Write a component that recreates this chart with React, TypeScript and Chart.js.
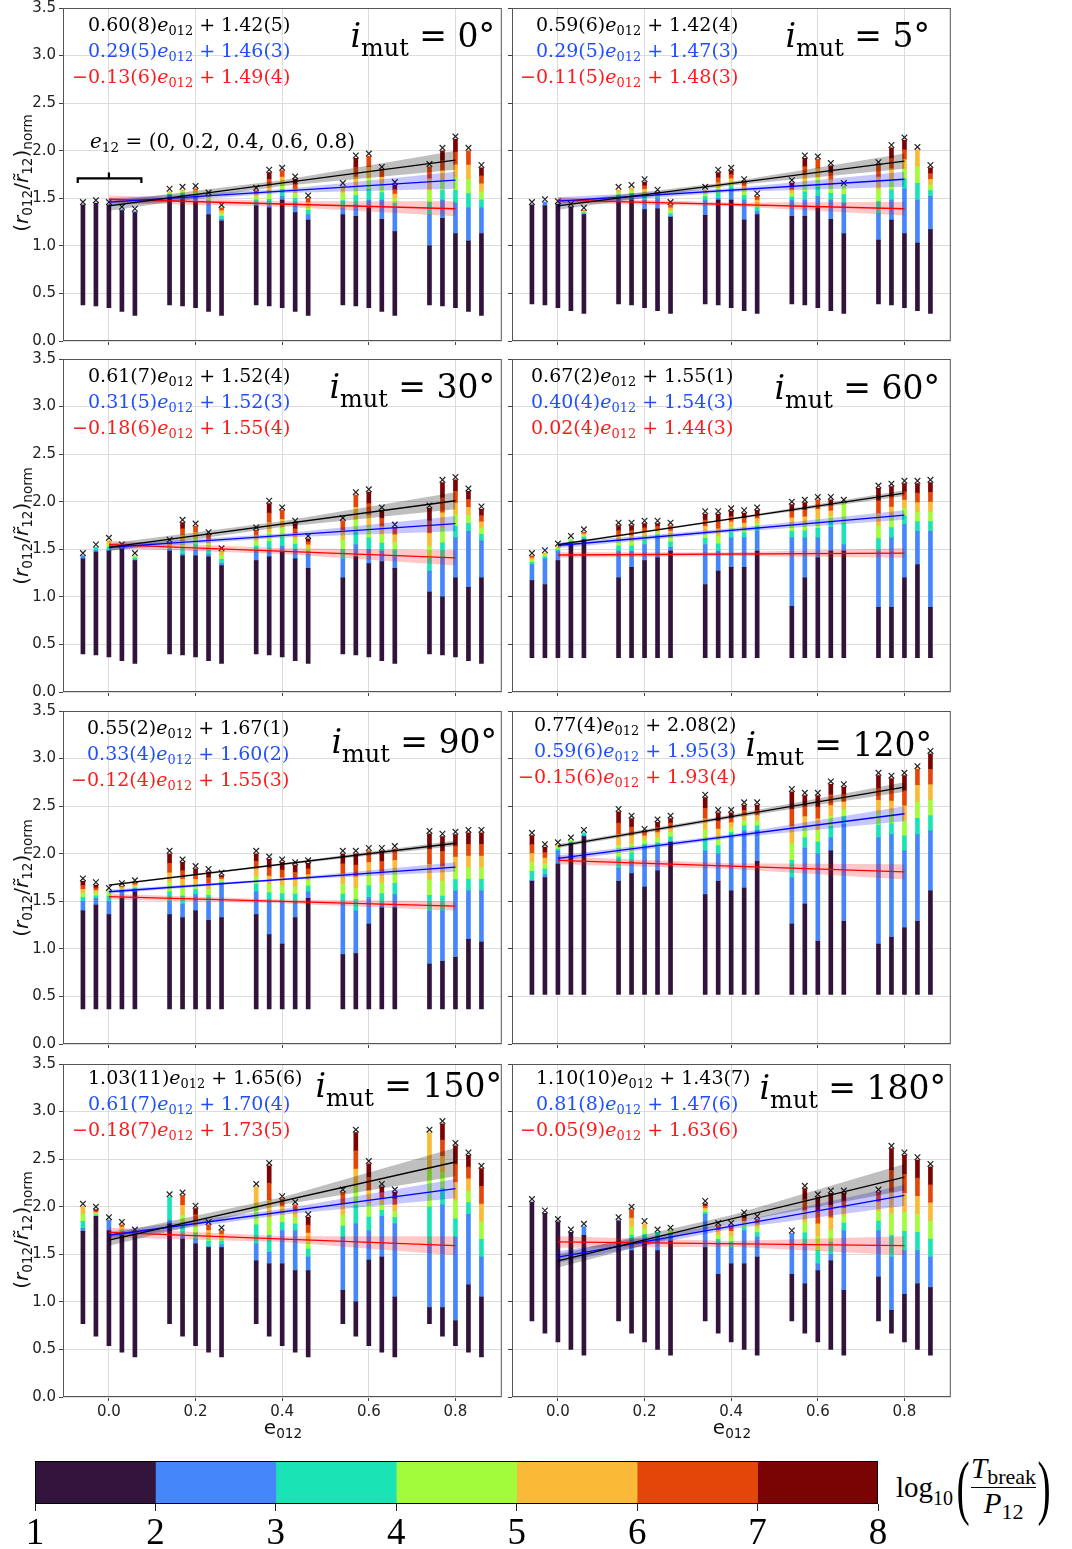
import React, { useEffect, useRef } from "react";
import { Chart, registerables } from "chart.js";
Chart.register(...registerables);

// ---------------- data ----------------
const I_MUT = [0, 5, 30, 60, 90, 120, 150, 180];
const E012 = [-0.06, -0.03, 0, 0.03, 0.06, 0.14, 0.17, 0.2, 0.23, 0.26, 0.34, 0.37, 0.4, 0.43, 0.46, 0.54, 0.57, 0.6, 0.63, 0.66, 0.74, 0.77, 0.8, 0.83, 0.86];
const X_TICKS = [0, 0.2, 0.4, 0.6, 0.8];
const Y_TICKS = [0, 0.5, 1, 1.5, 2, 2.5, 3, 3.5];
const CB_TICKS = [1, 2, 3, 4, 5, 6, 7, 8];
const CB_COLORS = ["#32133b", "#4686fb", "#1ae4b6", "#a2fc3c", "#f9ba38", "#e4460a", "#7a0403"];

// column extents per panel: bottom, top of dark part, top of blue part, top (cross), highest colour index
const BOTTOM_0 = [0.38, 0.37, 0.35, 0.31, 0.27, 0.38, 0.37, 0.35, 0.31, 0.27, 0.38, 0.37, 0.35, 0.31, 0.27, 0.38, 0.37, 0.35, 0.31, 0.27, 0.38, 0.37, 0.35, 0.31, 0.27];
const DARK_TOP_0 = [1.46, 1.48, 1.46, 1.37, 1.35, 1.50, 1.48, 1.46, 1.33, 1.26, 1.42, 1.40, 1.48, 1.35, 1.27, 1.33, 1.31, 1.40, 1.28, 1.15, 1.00, 1.29, 1.13, 1.05, 1.13];
const BLUE_TOP_0 = [1.46, 1.48, 1.46, 1.41, 1.39, 1.53, 1.53, 1.52, 1.45, 1.28, 1.45, 1.42, 1.52, 1.45, 1.33, 1.40, 1.43, 1.48, 1.48, 1.40, 1.33, 1.48, 1.45, 1.40, 1.40];
const TOP_0 = [1.46, 1.48, 1.46, 1.41, 1.39, 1.60, 1.62, 1.63, 1.56, 1.43, 1.61, 1.80, 1.82, 1.73, 1.53, 1.66, 1.95, 1.97, 1.83, 1.67, 1.86, 2.03, 2.15, 2.03, 1.85];
const TOP_COLOR_0 = [0, 0, 0, 1, 1, 4, 4, 5, 4, 5, 5, 6, 5, 6, 5, 4, 6, 5, 5, 6, 5, 6, 6, 5, 6];

const BOTTOM_1 = [0.39, 0.38, 0.35, 0.32, 0.29, 0.39, 0.38, 0.35, 0.32, 0.29, 0.39, 0.38, 0.35, 0.32, 0.29, 0.39, 0.38, 0.35, 0.32, 0.29, 0.39, 0.38, 0.35, 0.32, 0.29];
const DARK_TOP_1 = [1.46, 1.42, 1.47, 1.44, 1.33, 1.46, 1.48, 1.38, 1.39, 1.30, 1.32, 1.48, 1.48, 1.27, 1.33, 1.31, 1.31, 1.40, 1.28, 1.13, 1.06, 1.27, 1.13, 1.03, 1.17];
const BLUE_TOP_1 = [1.46, 1.44, 1.47, 1.44, 1.34, 1.50, 1.52, 1.48, 1.50, 1.31, 1.48, 1.50, 1.58, 1.48, 1.36, 1.48, 1.48, 1.52, 1.48, 1.45, 1.34, 1.48, 1.60, 1.48, 1.52];
const TOP_1 = [1.46, 1.49, 1.47, 1.44, 1.40, 1.62, 1.64, 1.70, 1.59, 1.46, 1.62, 1.80, 1.82, 1.70, 1.55, 1.69, 1.95, 1.94, 1.87, 1.66, 1.88, 2.06, 2.14, 2.04, 1.85];
const TOP_COLOR_1 = [0, 1, 0, 0, 5, 4, 4, 6, 5, 5, 4, 6, 6, 5, 5, 6, 6, 5, 6, 3, 5, 6, 6, 4, 6];

const BOTTOM_2 = [0.40, 0.39, 0.37, 0.33, 0.30, 0.40, 0.39, 0.37, 0.33, 0.30, 0.40, 0.39, 0.37, 0.33, 0.30, 0.40, 0.39, 0.37, 0.33, 0.30, 0.40, 0.39, 0.37, 0.33, 0.30];
const DARK_TOP_2 = [1.40, 1.47, 1.48, 1.50, 1.38, 1.48, 1.43, 1.43, 1.42, 1.33, 1.38, 1.42, 1.47, 1.40, 1.30, 1.20, 1.42, 1.35, 1.37, 1.30, 1.05, 1.00, 1.20, 1.10, 1.20];
const BLUE_TOP_2 = [1.43, 1.49, 1.49, 1.51, 1.39, 1.50, 1.45, 1.49, 1.45, 1.35, 1.48, 1.48, 1.53, 1.50, 1.45, 1.40, 1.55, 1.50, 1.48, 1.42, 1.27, 1.41, 1.62, 1.69, 1.59];
const TOP_2 = [1.46, 1.55, 1.62, 1.55, 1.46, 1.60, 1.81, 1.77, 1.68, 1.51, 1.73, 2.01, 1.94, 1.80, 1.64, 1.83, 2.10, 2.13, 1.94, 1.76, 1.96, 2.23, 2.26, 2.14, 1.95];
const TOP_COLOR_2 = [2, 2, 4, 3, 3, 5, 6, 5, 5, 4, 5, 6, 5, 6, 6, 5, 5, 6, 6, 5, 6, 6, 6, 6, 6];

const BOTTOM_3 = [0.36, 0.36, 0.36, 0.36, 0.36, 0.36, 0.36, 0.36, 0.36, 0.36, 0.36, 0.36, 0.36, 0.36, 0.36, 0.36, 0.36, 0.36, 0.36, 0.36, 0.36, 0.36, 0.36, 0.36, 0.36];
const DARK_TOP_3 = [1.17, 1.13, 1.38, 1.55, 1.60, 1.20, 1.31, 1.38, 1.41, 1.48, 1.13, 1.27, 1.31, 1.31, 1.48, 0.90, 1.20, 1.41, 1.48, 1.48, 0.89, 0.89, 1.20, 1.34, 0.89];
const BLUE_TOP_3 = [1.34, 1.40, 1.48, 1.56, 1.61, 1.48, 1.48, 1.55, 1.62, 1.52, 1.55, 1.48, 1.62, 1.62, 1.69, 1.62, 1.62, 1.62, 1.73, 1.55, 1.48, 1.62, 1.76, 1.69, 1.69];
const TOP_3 = [1.46, 1.49, 1.56, 1.64, 1.71, 1.78, 1.78, 1.80, 1.80, 1.78, 1.90, 1.90, 1.93, 1.91, 1.94, 2.00, 2.02, 2.05, 2.05, 2.02, 2.17, 2.19, 2.22, 2.22, 2.23];
const TOP_COLOR_3 = [5, 4, 4, 3, 5, 6, 6, 6, 6, 5, 6, 6, 6, 6, 6, 6, 6, 5, 6, 3, 6, 6, 6, 6, 6];

const BOTTOM_4 = [0.37, 0.37, 0.37, 0.37, 0.37, 0.37, 0.37, 0.37, 0.37, 0.37, 0.37, 0.37, 0.37, 0.37, 0.37, 0.37, 0.37, 0.37, 0.37, 0.37, 0.37, 0.37, 0.37, 0.37, 0.37];
const DARK_TOP_4 = [1.40, 1.46, 1.36, 1.53, 1.60, 1.36, 1.33, 1.40, 1.30, 1.33, 1.36, 1.15, 1.05, 1.33, 1.53, 0.94, 0.95, 1.26, 1.43, 1.43, 0.84, 0.87, 0.91, 1.10, 1.07];
const BLUE_TOP_4 = [1.50, 1.53, 1.50, 1.60, 1.62, 1.50, 1.47, 1.57, 1.50, 1.68, 1.60, 1.50, 1.50, 1.50, 1.60, 1.47, 1.40, 1.54, 1.47, 1.57, 1.40, 1.40, 1.61, 1.61, 1.61];
const TOP_4 = [1.74, 1.70, 1.64, 1.69, 1.72, 2.03, 1.94, 1.87, 1.84, 1.80, 2.03, 1.97, 1.94, 1.91, 1.93, 2.03, 2.03, 2.06, 2.06, 2.08, 2.24, 2.21, 2.23, 2.25, 2.25];
const TOP_COLOR_4 = [6, 6, 3, 5, 5, 6, 6, 6, 6, 6, 6, 6, 6, 6, 6, 6, 6, 5, 6, 5, 6, 6, 6, 6, 6];

const BOTTOM_5 = [0.52, 0.52, 0.52, 0.52, 0.52, 0.52, 0.52, 0.52, 0.52, 0.52, 0.52, 0.52, 0.52, 0.52, 0.52, 0.52, 0.52, 0.52, 0.52, 0.52, 0.52, 0.52, 0.52, 0.52, 0.52];
const DARK_TOP_5 = [1.71, 1.75, 1.89, 2.10, 2.18, 1.71, 1.79, 1.65, 1.82, 2.12, 1.57, 1.71, 1.61, 1.64, 1.92, 1.26, 1.47, 1.08, 2.03, 1.29, 1.05, 1.12, 1.22, 1.29, 1.61];
const BLUE_TOP_5 = [1.72, 1.78, 2.03, 2.11, 2.19, 1.85, 1.92, 2.06, 2.06, 2.13, 2.03, 2.00, 2.17, 2.24, 2.24, 1.75, 2.06, 2.00, 2.17, 2.31, 2.17, 2.20, 2.03, 2.20, 2.24];
const TOP_5 = [2.22, 2.10, 2.12, 2.17, 2.25, 2.47, 2.40, 2.26, 2.36, 2.40, 2.62, 2.46, 2.46, 2.54, 2.54, 2.68, 2.64, 2.64, 2.76, 2.73, 2.85, 2.82, 2.85, 2.92, 3.08];
const TOP_COLOR_5 = [6, 6, 4, 3, 2, 6, 6, 5, 6, 6, 6, 6, 6, 6, 6, 6, 6, 6, 6, 6, 6, 6, 6, 5, 6];

const BOTTOM_6 = [0.77, 0.64, 0.54, 0.47, 0.42, 0.77, 0.64, 0.54, 0.47, 0.42, 0.77, 0.64, 0.54, 0.47, 0.42, 0.77, 0.64, 0.54, 0.47, 0.42, 0.77, 0.64, 0.54, 0.47, 0.42];
const DARK_TOP_6 = [1.74, 1.90, 1.75, 1.70, 1.70, 1.82, 1.66, 1.61, 1.57, 1.57, 1.43, 1.40, 1.40, 1.33, 1.33, 1.12, 1.00, 1.44, 1.47, 1.05, 0.94, 0.94, 0.80, 1.18, 1.05];
const BLUE_TOP_6 = [1.77, 1.90, 1.83, 1.71, 1.72, 1.86, 1.70, 1.66, 1.58, 1.60, 1.61, 1.52, 1.75, 1.75, 1.47, 1.68, 1.82, 1.75, 1.90, 1.82, 1.61, 2.02, 1.68, 1.92, 1.47];
const TOP_6 = [2.03, 2.00, 1.89, 1.84, 1.76, 2.13, 2.15, 2.01, 1.84, 1.78, 2.24, 2.46, 2.11, 2.05, 1.92, 2.18, 2.81, 2.48, 2.24, 2.18, 2.81, 2.90, 2.67, 2.57, 2.43];
const TOP_COLOR_6 = [4, 6, 1, 5, 1, 2, 5, 6, 5, 5, 4, 6, 5, 5, 6, 5, 6, 6, 6, 6, 4, 6, 6, 6, 6];

const BOTTOM_7 = [0.80, 0.67, 0.58, 0.50, 0.44, 0.80, 0.67, 0.58, 0.50, 0.44, 0.80, 0.67, 0.58, 0.50, 0.44, 0.80, 0.67, 0.58, 0.50, 0.44, 0.80, 0.67, 0.58, 0.50, 0.44];
const DARK_TOP_7 = [2.08, 1.96, 1.87, 1.76, 1.70, 1.85, 1.54, 1.64, 1.54, 1.64, 1.57, 1.29, 1.40, 1.40, 1.47, 1.29, 1.19, 1.33, 1.43, 1.12, 1.26, 0.91, 1.08, 1.19, 1.15];
const BLUE_TOP_7 = [2.08, 1.96, 1.87, 1.76, 1.76, 1.87, 1.61, 1.66, 1.68, 1.68, 1.92, 1.61, 1.57, 1.75, 1.68, 1.61, 1.61, 1.40, 1.50, 1.75, 1.75, 1.47, 1.54, 1.54, 1.47];
const TOP_7 = [2.08, 1.96, 1.87, 1.76, 1.82, 1.89, 2.00, 1.85, 1.76, 1.78, 2.06, 1.83, 1.83, 1.94, 1.90, 1.75, 2.22, 2.13, 2.17, 2.17, 2.18, 2.64, 2.57, 2.52, 2.45];
const TOP_COLOR_7 = [0, 0, 0, 0, 1, 1, 5, 4, 2, 3, 6, 5, 5, 6, 5, 1, 6, 6, 6, 6, 5, 6, 6, 6, 6];

// fits: value at e012 = 0 and 0.8, band half-widths at 0, 0.4, 0.8
const BLACK_START = [1.42, 1.42, 1.52, 1.55, 1.67, 2.08, 1.65, 1.43];
const BLACK_END = [1.90, 1.89, 2.01, 2.09, 2.11, 2.70, 2.47, 2.31];
const BLUE_START = [1.46, 1.47, 1.52, 1.54, 1.60, 1.95, 1.70, 1.47];
const BLUE_END = [1.69, 1.70, 1.77, 1.86, 1.86, 2.42, 2.19, 2.12];
const RED_START = [1.49, 1.48, 1.55, 1.44, 1.55, 1.93, 1.73, 1.63];
const RED_END = [1.39, 1.39, 1.41, 1.46, 1.45, 1.81, 1.59, 1.59];
const BLACK_HW = [[0.05, 0.03, 0.10], [0.04, 0.02, 0.08], [0.04, 0.03, 0.09], [0.01, 0.01, 0.03], [0.01, 0.01, 0.03], [0.02, 0.02, 0.05], [0.06, 0.04, 0.15], [0.07, 0.04, 0.14]];
const BLUE_HW = [[0.04, 0.02, 0.09], [0.04, 0.02, 0.08], [0.03, 0.02, 0.08], [0.03, 0.02, 0.05], [0.02, 0.01, 0.05], [0.03, 0.02, 0.08], [0.04, 0.03, 0.10], [0.06, 0.03, 0.11]];
const RED_HW = [[0.04, 0.03, 0.08], [0.03, 0.02, 0.07], [0.04, 0.03, 0.08], [0.03, 0.02, 0.05], [0.03, 0.02, 0.05], [0.04, 0.03, 0.08], [0.05, 0.03, 0.10], [0.06, 0.03, 0.10]];

const BLACK_EQ = [["0.60(8)", "1.42(5)"], ["0.59(6)", "1.42(4)"], ["0.61(7)", "1.52(4)"], ["0.67(2)", "1.55(1)"], ["0.55(2)", "1.67(1)"], ["0.77(4)", "2.08(2)"], ["1.03(11)", "1.65(6)"], ["1.10(10)", "1.43(7)"]];
const BLUE_EQ = [["0.29(5)", "1.46(3)"], ["0.29(5)", "1.47(3)"], ["0.31(5)", "1.52(3)"], ["0.40(4)", "1.54(3)"], ["0.33(4)", "1.60(2)"], ["0.59(6)", "1.95(3)"], ["0.61(7)", "1.70(4)"], ["0.81(8)", "1.47(6)"]];
const RED_EQ = [["−0.13(6)", "1.49(4)"], ["−0.11(5)", "1.48(3)"], ["−0.18(6)", "1.55(4)"], ["0.02(4)", "1.44(3)"], ["−0.12(4)", "1.55(3)"], ["−0.15(6)", "1.93(4)"], ["−0.18(7)", "1.73(5)"], ["−0.05(9)", "1.63(6)"]];

// e12 bracket annotation (panel 0)
const BRACKET_X = [-0.072, -0.072, 0.075, 0.075];
const BRACKET_Y = [1.66, 1.71, 1.71, 1.66];
const BRACKET_TICK_X = [0, 0];
const BRACKET_TICK_Y = [1.71, 1.77];

const PANEL_COLUMNS = [
  { bottom: BOTTOM_0, dark: DARK_TOP_0, blue: BLUE_TOP_0, top: TOP_0, tc: TOP_COLOR_0 },
  { bottom: BOTTOM_1, dark: DARK_TOP_1, blue: BLUE_TOP_1, top: TOP_1, tc: TOP_COLOR_1 },
  { bottom: BOTTOM_2, dark: DARK_TOP_2, blue: BLUE_TOP_2, top: TOP_2, tc: TOP_COLOR_2 },
  { bottom: BOTTOM_3, dark: DARK_TOP_3, blue: BLUE_TOP_3, top: TOP_3, tc: TOP_COLOR_3 },
  { bottom: BOTTOM_4, dark: DARK_TOP_4, blue: BLUE_TOP_4, top: TOP_4, tc: TOP_COLOR_4 },
  { bottom: BOTTOM_5, dark: DARK_TOP_5, blue: BLUE_TOP_5, top: TOP_5, tc: TOP_COLOR_5 },
  { bottom: BOTTOM_6, dark: DARK_TOP_6, blue: BLUE_TOP_6, top: TOP_6, tc: TOP_COLOR_6 },
  { bottom: BOTTOM_7, dark: DARK_TOP_7, blue: BLUE_TOP_7, top: TOP_7, tc: TOP_COLOR_7 },
];

// ---------------- layout ----------------
const X_MIN = -0.106;
const X_MAX = 0.907;
const COL_LEFT = [63, 512];
const ROW_TOP = [8, 359, 711, 1064];
const PLOT_W = 440;
const PLOT_H = 333;
const EQ_LEFT = [88, 536, 88, 531, 87, 534, 88, 536];
const EQ_Y0 = [24, 24, 375, 375, 727, 724, 1077, 1077];
const LABEL_RIGHT = [495, 930, 495, 940, 497, 932, 502, 946];
const LABEL_CY = [35, 35, 386, 387, 741, 744, 1085, 1087];
const YLABEL_CY = [173, 526, 878, 1230];
const XLABEL_CX = [283, 732];

const framePlugin = {
  id: "frame",
  afterDraw(chart: any) {
    const { ctx, chartArea: a } = chart;
    ctx.save();
    ctx.strokeStyle = chart.options.frameColor || "#555";
    ctx.lineWidth = 1;
    ctx.strokeRect(a.left + 0.5, a.top + 0.5, a.right - a.left - 1, a.bottom - a.top - 1);
    ctx.restore();
  },
};

function buildSegments(p: any) {
  const segs: any[][] = CB_COLORS.map(() => []);
  for (let i = 0; i < E012.length; i++) {
    const x = E012[i];
    const b = p.bottom[i];
    const d = p.dark[i];
    const bl = p.blue[i];
    const t = p.top[i] - 0.03;
    const tc = p.tc[i];
    if (tc === 0) {
      segs[0].push({ x, y: [b, t] });
      continue;
    }
    segs[0].push({ x, y: [b, Math.min(d, t)] });
    if (tc === 1) {
      segs[1].push({ x, y: [Math.min(d, t), t] });
      continue;
    }
    segs[1].push({ x, y: [d, bl] });
    const n = tc - 1;
    const step = (t - bl) / n;
    for (let c = 2; c <= tc; c++) segs[c].push({ x, y: [bl + step * (c - 2), bl + step * (c - 1)] });
  }
  return segs;
}

const Sub = ({ children, size = "0.68em", drop = "0.3em" }: any) => (
  <span style={{ fontSize: size, position: "relative", top: drop }}>{children}</span>
);

function EqLine({ x, y, color, slope, icpt }: any) {
  const neg = slope.startsWith("−");
  const body = neg ? slope.slice(1) : slope;
  return (
    <div style={{ position: "absolute", left: x, top: y - 13, height: 26, fontFamily: "'DejaVu Serif'", fontSize: 19, lineHeight: "26px", color, whiteSpace: "nowrap" }}>
      {neg && <span style={{ position: "absolute", right: "100%", top: 0 }}>−</span>}
      {body}
      <i>e</i>
      <Sub>012</Sub>
      {" + "}
      {icpt}
    </div>
  );
}

function Panel({ idx }: { idx: number }) {
  const ref = useRef<HTMLCanvasElement>(null);
  const row = Math.floor(idx / 2);
  const col = idx % 2;
  const isLeft = col === 0;
  const isBottom = row === 3;
  const yW = isLeft ? 63 : 6;
  const xH = isBottom ? 30 : 6;
  const PAD_T = 10;
  const PAD_R = 4;
  const width = yW + PLOT_W + PAD_R;
  const height = PAD_T + PLOT_H + xH;
  const left = COL_LEFT[col] - yW;
  const top = ROW_TOP[row] - PAD_T;

  useEffect(() => {
    const cols = PANEL_COLUMNS[idx];
    const segs = buildSegments(cols);
    const datasets: any[] = [];
    segs.forEach((data, c) =>
      datasets.push({ type: "bar", data, backgroundColor: CB_COLORS[c], barThickness: 4, grouped: false, borderWidth: 0, order: 10 })
    );
    datasets.push({
      type: "scatter",
      data: E012.map((x, i) => ({ x, y: cols.top[i] })),
      pointStyle: "crossRot",
      pointRadius: 4,
      borderColor: "#222",
      backgroundColor: "#222",
      borderWidth: 1.2,
      order: 8,
    });
    const fits = [
      { s: BLACK_START[idx], e: BLACK_END[idx], hw: BLACK_HW[idx], line: "#000000", band: "rgba(0,0,0,0.25)" },
      { s: BLUE_START[idx], e: BLUE_END[idx], hw: BLUE_HW[idx], line: "#0000ff", band: "rgba(0,0,255,0.22)" },
      { s: RED_START[idx], e: RED_END[idx], hw: RED_HW[idx], line: "#ff0000", band: "rgba(255,0,0,0.22)" },
    ];
    fits.forEach((f) => {
      const m = (f.s + f.e) / 2;
      datasets.push({
        type: "line",
        data: [{ x: 0, y: f.s + f.hw[0] }, { x: 0.4, y: m + f.hw[1] }, { x: 0.8, y: f.e + f.hw[2] }],
        borderWidth: 0,
        borderColor: "rgba(0,0,0,0)",
        pointRadius: 0,
        fill: "+1",
        backgroundColor: f.band,
        order: 5,
      });
      datasets.push({
        type: "line",
        data: [{ x: 0, y: f.s - f.hw[0] }, { x: 0.4, y: m - f.hw[1] }, { x: 0.8, y: f.e - f.hw[2] }],
        borderWidth: 0,
        borderColor: "rgba(0,0,0,0)",
        pointRadius: 0,
        fill: false,
        order: 5,
      });
    });
    fits.forEach((f) =>
      datasets.push({
        type: "line",
        data: [{ x: 0, y: f.s }, { x: 0.8, y: f.e }],
        borderColor: f.line,
        borderWidth: 1.3,
        pointRadius: 0,
        fill: false,
        order: 1,
      })
    );
    if (idx === 0) {
      datasets.push({
        type: "line",
        data: BRACKET_X.map((x, i) => ({ x, y: BRACKET_Y[i] })),
        borderColor: "#000",
        borderWidth: 2.2,
        pointRadius: 0,
        fill: false,
        order: 0,
      });
      datasets.push({
        type: "line",
        data: BRACKET_TICK_X.map((x, i) => ({ x, y: BRACKET_TICK_Y[i] })),
        borderColor: "#000",
        borderWidth: 2.2,
        pointRadius: 0,
        fill: false,
        order: 0,
      });
    }
    const gridCfg = { color: "#dcdcdc", lineWidth: 1, drawTicks: true, tickLength: 4, tickColor: "#444", offset: false };
    const tickFont = { family: "'DejaVu Sans'", size: 15 };
    const chart = new Chart(ref.current as HTMLCanvasElement, {
      type: "bar",
      data: { datasets },
      options: {
        responsive: false,
        animation: false,
        events: [],
        layout: { padding: { top: PAD_T, right: PAD_R, left: 0, bottom: 0 } },
        plugins: { legend: { display: false }, tooltip: { enabled: false } },
        scales: {
          x: {
            type: "linear",
            min: X_MIN,
            max: X_MAX,
            offset: false,
            afterBuildTicks: (s: any) => {
              s.ticks = X_TICKS.map((v) => ({ value: v }));
            },
            afterFit: (s: any) => {
              s.height = xH;
              s.paddingLeft = 0;
              s.paddingRight = 0;
            },
            grid: gridCfg,
            border: { display: false },
            ticks: {
              display: isBottom,
              autoSkip: false,
              maxRotation: 0,
              padding: 2,
              color: "#222",
              font: tickFont,
              callback: (v: any) => Number(v).toFixed(1),
            },
          },
          y: {
            type: "linear",
            min: 0,
            max: 3.5,
            afterBuildTicks: (s: any) => {
              s.ticks = Y_TICKS.map((v) => ({ value: v }));
            },
            afterFit: (s: any) => {
              s.width = yW;
              s.paddingTop = 0;
              s.paddingBottom = 0;
            },
            grid: gridCfg,
            border: { display: false },
            ticks: {
              display: isLeft,
              autoSkip: false,
              padding: 3,
              color: "#222",
              font: tickFont,
              callback: (v: any) => Number(v).toFixed(1),
            },
          },
        },
      } as any,
      plugins: [framePlugin],
    } as any);
    return () => chart.destroy();
  }, [idx]);

  const eqs = [
    { c: "#000000", v: BLACK_EQ[idx] },
    { c: "#1f4fff", v: BLUE_EQ[idx] },
    { c: "#ff1a1a", v: RED_EQ[idx] },
  ];

  return (
    <>
      <canvas ref={ref} width={width} height={height} style={{ position: "absolute", left, top, width, height }} />
      {eqs.map((q, k) => (
        <EqLine key={k} x={EQ_LEFT[idx]} y={EQ_Y0[idx] + k * 26} color={q.c} slope={q.v[0]} icpt={q.v[1]} />
      ))}
      <div
        style={{
          position: "absolute",
          right: 1072 - LABEL_RIGHT[idx],
          top: LABEL_CY[idx] - 16,
          fontFamily: "'DejaVu Serif'",
          fontSize: 33,
          lineHeight: "33px",
          whiteSpace: "nowrap",
          color: "#000",
        }}
      >
        <i>i</i>
        <span style={{ fontSize: 24, position: "relative", top: 9 }}>mut</span>
        {" = "}
        {I_MUT[idx]}°
      </div>
      {isLeft && (
        <div
          style={{
            position: "absolute",
            left: 21 - 90,
            top: YLABEL_CY[row] - 13,
            width: 180,
            height: 26,
            transform: "rotate(-90deg)",
            textAlign: "center",
            fontFamily: "'DejaVu Sans'",
            fontSize: 20,
            lineHeight: "26px",
            whiteSpace: "nowrap",
            color: "#111",
          }}
        >
          (<i>r</i>
          <Sub>012</Sub>/<i>r̃</i>
          <Sub>12</Sub>)<Sub>norm</Sub>
        </div>
      )}
      {isBottom && (
        <div
          style={{
            position: "absolute",
            left: XLABEL_CX[col] - 50,
            top: 1427 - 12,
            width: 100,
            height: 24,
            textAlign: "center",
            fontFamily: "'DejaVu Sans'",
            fontSize: 20,
            lineHeight: "24px",
            color: "#111",
          }}
        >
          e<Sub>012</Sub>
        </div>
      )}
      {idx === 0 && (
        <div style={{ position: "absolute", left: 90, top: 141 - 14, fontFamily: "'DejaVu Serif'", fontSize: 20, lineHeight: "28px", whiteSpace: "nowrap", color: "#000" }}>
          <i>e</i>
          <Sub>12</Sub>
          {" = (0, 0.2, 0.4, 0.6, 0.8)"}
        </div>
      )}
    </>
  );
}

function ColorBar() {
  const ref = useRef<HTMLCanvasElement>(null);
  const PAD = 15;
  const BAR_H = 43;
  const AX_H = 50;
  const left = 35 - PAD;
  const width = 843 + 2 * PAD;
  const height = BAR_H + AX_H;
  useEffect(() => {
    const datasets = CB_COLORS.map((c, i) => ({
      data: [[CB_TICKS[i], CB_TICKS[i + 1]]],
      backgroundColor: c,
      borderWidth: 0,
      grouped: false,
      barPercentage: 1,
      categoryPercentage: 1,
    }));
    const chart = new Chart(ref.current as HTMLCanvasElement, {
      type: "bar",
      data: { labels: [""], datasets },
      options: {
        indexAxis: "y",
        responsive: false,
        animation: false,
        events: [],
        frameColor: "#000",
        layout: { padding: { left: PAD, right: PAD, top: 0, bottom: 0 } },
        plugins: { legend: { display: false }, tooltip: { enabled: false } },
        scales: {
          x: {
            type: "linear",
            min: 1,
            max: 8,
            afterBuildTicks: (s: any) => {
              s.ticks = CB_TICKS.map((v) => ({ value: v }));
            },
            afterFit: (s: any) => {
              s.height = AX_H;
              s.paddingLeft = 0;
              s.paddingRight = 0;
            },
            grid: { drawOnChartArea: false, drawTicks: true, tickLength: 7, tickColor: "#222", color: "#222" },
            border: { display: false },
            ticks: { autoSkip: false, maxRotation: 0, padding: 1, color: "#000", font: { family: "'Liberation Serif'", size: 37 } },
          },
          y: { type: "category", display: false },
        },
      } as any,
      plugins: [framePlugin],
    } as any);
    return () => chart.destroy();
  }, []);
  return <canvas ref={ref} width={width} height={height} style={{ position: "absolute", left, top: 1461, width, height }} />;
}

function ColorBarLabel() {
  return (
    <div
      style={{
        position: "absolute",
        left: 896,
        top: 1450,
        height: 74,
        display: "flex",
        alignItems: "center",
        fontFamily: "'Liberation Serif'",
        fontSize: 29,
        color: "#000",
        whiteSpace: "nowrap",
      }}
    >
      <span>
        log<span style={{ fontSize: 20, position: "relative", top: 8 }}>10</span>
      </span>
      <span style={{ fontSize: 72, lineHeight: "72px", display: "inline-block", transform: "scaleX(0.55)", margin: "0 -4px 0 -2px" }}>(</span>
      <span style={{ display: "inline-flex", flexDirection: "column", alignItems: "center", lineHeight: "30px" }}>
        <span>
          <i>T</i>
          <span style={{ fontSize: 22, position: "relative", top: 6 }}>break</span>
        </span>
        <span style={{ alignSelf: "stretch", borderTop: "1.8px solid #000", margin: "1px 0 0 0" }} />
        <span>
          <i>P</i>
          <span style={{ fontSize: 22, position: "relative", top: 6 }}>12</span>
        </span>
      </span>
      <span style={{ fontSize: 72, lineHeight: "72px", display: "inline-block", transform: "scaleX(0.55)", margin: "0 0 0 -4px" }}>)</span>
    </div>
  );
}

export default function App() {
  return (
    <div style={{ position: "absolute", left: 0, top: 0, width: 1072, height: 1549, background: "#fff", overflow: "hidden" }}>
      {I_MUT.map((_, i) => (
        <Panel key={i} idx={i} />
      ))}
      <ColorBar />
      <ColorBarLabel />
    </div>
  );
}
